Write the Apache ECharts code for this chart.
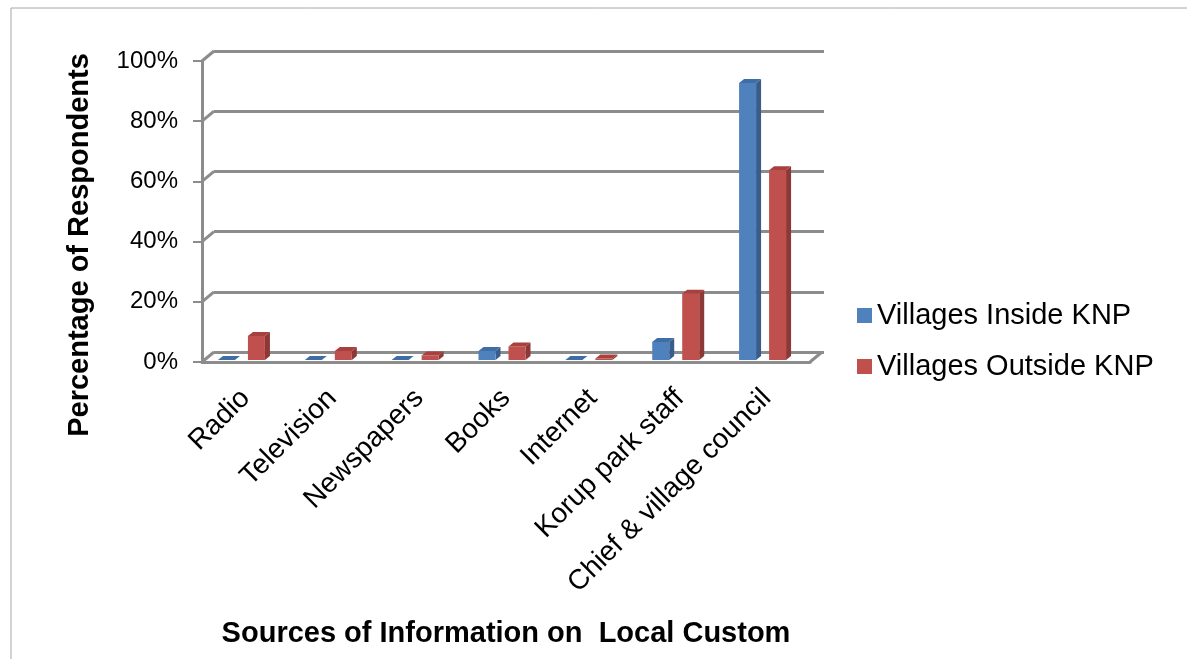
<!DOCTYPE html>
<html>
<head>
<meta charset="utf-8">
<script src="https://cdn.jsdelivr.net/npm/echarts@6/dist/echarts.min.js"></script>
<style>
  html, body { margin: 0; padding: 0; background: #fff; }
  #chart { width: 1187px; height: 659px; }
</style>
</head>
<body>
<div id="chart"></div>
<script>
// data
const categories = ['Radio', 'Television', 'Newspapers', 'Books', 'Internet', 'Korup park staff', 'Chief & village council'];
const insideKNP = [0, 0, 0, 3, 0, 6, 92];
const outsideKNP = [8, 3, 1.5, 4.5, 0.5, 22, 63];
const yTicks = [0, 20, 40, 60, 80, 100];

const FONT = '"Liberation Sans", Arial, sans-serif';
const LINE = '#8c8c8c';
// depth of the back wall in pixels
const DEPTH_X = 12, DEPTH_Y = 10;

// one 3d looking column: front face, side face, top face
function barRenderer(offset, front, side, top) {
  return function (params, api) {
    const i = api.value(0);
    const v = api.value(1);
    const p0 = api.coord([i, 0]);
    const p1 = api.coord([i, v]);
    const w = 17, dx = 5, dy = 4;
    const cx = p0[0] + offset;
    const base = p0[1] - 2;
    const t = p1[1] - 2;
    const l = cx - w / 2, r = cx + w / 2;
    return {
      type: 'group',
      children: [
        { type: 'polygon', shape: { points: [[r, t], [r + dx, t - dy], [r + dx, base - dy], [r, base]] }, style: { fill: side } },
        { type: 'rect', shape: { x: l, y: t, width: w, height: base - t }, style: { fill: front } },
        { type: 'polygon', shape: { points: [[l, t], [l + dx, t - dy], [r + dx, t - dy], [r, t]] }, style: { fill: top } }
      ]
    };
  };
}

const chart = echarts.init(document.getElementById('chart'));
chart.setOption({
  animation: false,
  textStyle: { fontFamily: FONT },
  legend: {
    orient: 'vertical',
    left: 852,
    top: 296,
    itemWidth: 15,
    itemHeight: 15,
    itemGap: 22,
    icon: 'rect',
    textStyle: { fontSize: 29, color: '#000', fontFamily: FONT },
    data: ['Villages Inside KNP', 'Villages Outside KNP']
  },
  grid: [
    // front plane
    { left: 202, right: 377, top: 61, bottom: 297 },
    // back wall
    { left: 202 + DEPTH_X, right: 377 - DEPTH_X - 2, top: 61 - DEPTH_Y, bottom: 297 + DEPTH_Y }
  ],
  xAxis: [
    {
      gridIndex: 0, type: 'category', data: categories,
      axisLine: { show: true, lineStyle: { color: LINE, width: 3 } },
      axisTick: { show: false },
      axisLabel: { show: true, rotate: 45, margin: 32, fontSize: 28, color: '#000', fontFamily: FONT, interval: 0 },
      name: 'Sources of Information on  Local Custom',
      nameLocation: 'middle',
      nameGap: 257,
      nameTextStyle: { fontSize: 29, fontWeight: 'bold', color: '#000', fontFamily: FONT }
    },
    {
      gridIndex: 1, type: 'category', data: categories,
      axisLine: { show: false },
      axisTick: { show: false },
      axisLabel: { show: false }
    }
  ],
  yAxis: [
    {
      gridIndex: 0, type: 'value', min: 0, max: 100, interval: 20,
      axisLine: { show: true, lineStyle: { color: LINE, width: 3 } },
      axisTick: { show: true, length: 9, lineStyle: { color: LINE, width: 2 } },
      splitLine: { show: false },
      axisLabel: { formatter: '{value}%', fontSize: 24, color: '#000', margin: 24, fontFamily: FONT }
    },
    {
      gridIndex: 1, type: 'value', min: 0, max: 100, interval: 20,
      axisLine: { show: false },
      axisTick: { show: false },
      axisLabel: { show: false },
      splitLine: { show: true, lineStyle: { color: LINE, width: 3 } }
    }
  ],
  graphic: [
    { type: 'rect', shape: { x: 11, y: 8, width: 1300, height: 800 }, style: { fill: 'none', stroke: '#a6a6a6', lineWidth: 1 }, silent: true },
    {
      type: 'text', x: 80, y: 245, rotation: Math.PI / 2,
      style: { text: 'Percentage of Respondents', font: 'bold 29px ' + FONT, fill: '#000', align: 'center', verticalAlign: 'middle' }
    }
  ],
  series: [
    {
      // connectors from the front edge to the back wall
      type: 'custom', xAxisIndex: 0, yAxisIndex: 0, silent: true,
      data: yTicks.map(t => [0, t]),
      renderItem: function (params, api) {
        const cs = params.coordSys;
        const y = api.coord([0, api.value(1)])[1];
        const lines = [{ type: 'line', shape: { x1: cs.x, y1: y, x2: cs.x + DEPTH_X, y2: y - DEPTH_Y }, style: { stroke: LINE, lineWidth: 3 } }];
        if (api.value(1) === 0) {
          const rx = cs.x + cs.width;
          lines.push({ type: 'line', shape: { x1: rx, y1: y, x2: rx + DEPTH_X, y2: y - DEPTH_Y }, style: { stroke: LINE, lineWidth: 3 } });
        }
        return { type: 'group', children: lines };
      }
    },
    {
      name: 'Villages Inside KNP', type: 'custom', xAxisIndex: 0, yAxisIndex: 0,
      itemStyle: { color: '#4F81BD' },
      data: insideKNP.map((v, i) => [i, v]),
      renderItem: barRenderer(-19, '#4F81BD', '#385D8A', '#3F6EA6')
    },
    {
      name: 'Villages Outside KNP', type: 'custom', xAxisIndex: 0, yAxisIndex: 0,
      itemStyle: { color: '#C0504D' },
      data: outsideKNP.map((v, i) => [i, v]),
      renderItem: barRenderer(11, '#C0504D', '#8C3836', '#A8403D')
    }
  ]
});
</script>
</body>
</html>
